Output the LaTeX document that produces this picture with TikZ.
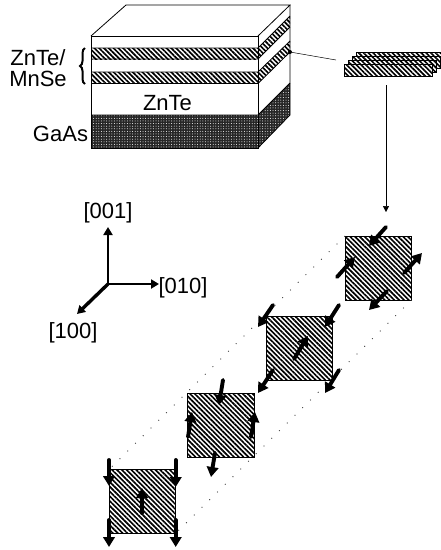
\documentclass[tikz,border=0pt]{standalone}
\usepackage{fontspec}
\setmainfont{Liberation Sans}
\usetikzlibrary{arrows.meta,patterns.meta,decorations.pathreplacing,calc}
\tikzset{
  hatchfill/.style={pattern={Lines[angle=-45,distance=3.4pt,line width=1.65pt]},pattern color=black},
  hatched/.style={draw=black,line width=1pt,hatchfill},
  darkfill/.style={pattern={Dots[distance=2.6pt,radius=.5pt]},pattern color=white},
  edge/.style={draw=black,line width=.8pt},
  slab/.style={hatched,preaction={fill=white},minimum width=88pt,minimum height=12pt,inner sep=0pt,outer sep=0pt},
  sq/.style={hatched,minimum width=66.5pt,minimum height=64pt,inner sep=0pt,outer sep=0pt},
  spin/.style={line width=3.9pt,line cap=round,-{Triangle[length=10pt,width=11.5pt]},black},
  axisarrow/.style={line width=2.8pt,-{Triangle[length=8pt,width=9pt]},black},
  dots/.style={black!75,line width=.9pt,dash pattern=on .9pt off 10pt},
  lab/.style={font=\fontsize{22}{24}\selectfont,inner sep=0pt,outer sep=0pt,text=black},
  leader/.style={black,line width=.5pt}
}
\begin{document}
\begin{tikzpicture}[x=1pt,y=-1pt]
\useasboundingbox (0,0) rectangle (441,550);
% block
\fill[black!85] (91,115) rectangle (258,148);
\fill[black!85] (258,115)--(290,83)--(290,115)--(258,148)--cycle;
\path[darkfill] (91,115) rectangle (258,148);
\path[darkfill] (258,115)--(290,83)--(290,115)--(258,148)--cycle;
\draw[edge] (91,36) rectangle (258,148);
\draw[edge] (91,36)--(126,5)--(290,5)--(258,36);
\draw[edge] (290,5)--(290,115)--(258,148);
\path[hatchfill] (91,48) rectangle (258,59);
\path[hatchfill] (91,72) rectangle (258,83.5);
\path[hatchfill] (258,48)--(290,16)--(290,27)--(258,59)--cycle;
\path[hatchfill] (258,72)--(290,41)--(290,52)--(258,83.5)--cycle;
\draw[edge] (91,48)--(258,48)--(290,16);
\draw[edge] (91,59)--(258,59)--(290,27);
\draw[edge] (91,72)--(258,72)--(290,41);
\draw[edge] (91,83.5)--(258,83.5)--(290,52);
\draw[edge] (91,115)--(258,115)--(290,83);
% labels
\node[lab] (zm1) at (38,58) {ZnTe/};
\node[lab] (zm2) at (38,79) {MnSe};
\node[lab] (zn) at (167.5,103) {ZnTe};
\node[lab,anchor=east] (ga) at (88,134) {GaAs};
\draw[decorate,decoration={brace,amplitude=5pt},line width=2pt] (85,84)--(85,48);
% stack
\node[slab,anchor=north west] (st4) at (356,52) {};
\node[slab,anchor=north west] (st3) at (352,56) {};
\node[slab,anchor=north west] (st2) at (348,60) {};
\node[slab,anchor=north west] (st1) at (344,64) {};
% leader
\node[circle,fill=black,inner sep=0pt,minimum size=4pt] (dot) at (290,52) {};
\coordinate (stl) at (336,60);
\draw[leader] (dot)--(stl);
\coordinate (vs) at (386,85);
\coordinate (ve) at (386,212);
\draw[leader,-{Triangle[length=6pt,width=6pt]}] (vs)--(ve);
% axes
\coordinate (o) at (108,284);
\coordinate (az) at (108,227);
\coordinate (ay) at (159,284);
\coordinate (ax) at (77,314);
\draw[axisarrow] (o)--(az);
\draw[axisarrow] (o)--(ay);
\draw[axisarrow,line width=3.4pt] (o)--(ax);
\node[lab] (l001) at (108,213) {[001]};
\node[lab] (l010) at (183,288) {[010]};
\node[lab] (l100) at (73,333) {[100]};
% squares and dotted guides
\node[sq,anchor=north west] (s1) at (345,236) {};
\node[sq,anchor=north west] (s2) at (266,316) {};
\node[sq,anchor=north west] (s3) at (187.7,393) {};
\node[sq,anchor=north west] (s4) at (109,469.5) {};
\draw[dots] (s1.north west)--(s4.north west);
\draw[dots] (s1.south east)--(s4.south east);
% spins
\draw[spin] (386,227)--(369,246);
\draw[spin] (337,277)--(355,257);
\draw[spin] (404,273)--(422,253);
\draw[spin] (387,291)--(369,310);
\draw[spin] (273,305)--(258,327);
\draw[spin] (339,305)--(325,327);
\draw[spin] (294,359)--(308,336);
\draw[spin] (273,370)--(258,393);
\draw[spin] (339,370)--(325,393);
\draw[spin] (223,380)--(219,405);
\draw[spin] (188,437)--(192,412);
\draw[spin] (251,437)--(255,412);
\draw[spin] (215,453)--(211,477);
\draw[spin] (109,460)--(109,486);
\draw[spin] (175.7,460)--(175.7,487);
\draw[spin] (142,513)--(142,488);
\draw[spin] (109,520)--(109,547);
\draw[spin] (175.7,520)--(175.7,547);
\end{tikzpicture}
\end{document}
